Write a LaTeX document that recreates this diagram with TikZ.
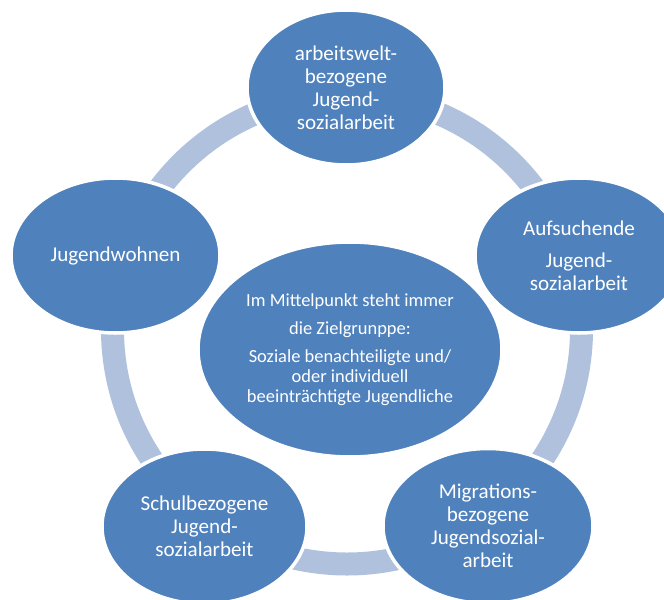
\documentclass[tikz,border=0pt]{standalone}
\usepackage{fontspec}
\setmainfont{Carlito}
\usetikzlibrary{shapes.geometric}
\definecolor{bubbleblue}{RGB}{79,129,189}
\definecolor{ringblue}{RGB}{176,193,222}

\begin{document}
\begin{tikzpicture}[
    field/.style={ellipse, fill=bubbleblue, draw=white, line width=2pt, inner sep=0pt,
      text=white, align=center, font=\fontsize{12}{13}\selectfont, minimum height=3.1cm}]
  \useasboundingbox (0,0) rectangle (13.28,-11.98);
  \clip (0,0) rectangle (13.28,-11.98);

  % Draw ring
  \coordinate (mid) at (6.94,-6.59);
  \draw[ringblue, line width=0.46cm] (mid) circle (4.69);

  % Draw ellipses
  \node[field, minimum width=3.96cm] (arbeit) at (6.92,-1.75) {arbeitswelt-\\bezogene\\Jugend-\\sozialarbeit};
  \node[field, minimum width=4.16cm] (aufsuch) at (11.58,-5.11) {Aufsuchende\\[5.5pt]Jugend-\\sozialarbeit};
  \node[field, minimum width=4.20cm] (migration) at (9.76,-10.52) {Migrations-\\bezogene\\Jugendsozial-\\arbeit};
  \node[field, minimum width=4.10cm] (schule) at (4.09,-10.53) {Schulbezogene\\Jugend-\\sozialarbeit};
  \node[field, minimum width=4.18cm] (wohnen) at (2.31,-5.11) {Jugendwohnen};

  % Center
  \node[field, minimum width=6.08cm, minimum height=4.3cm, font=\fontsize{10.5}{11.5}\selectfont] (ziel) at (7.0,-6.99)
    {Im Mittelpunkt steht immer\\[4.5pt]die Zielgrunppe:\\[4.5pt]Soziale benachteiligte und/\\oder individuell\\beeinträchtigte Jugendliche};
\end{tikzpicture}
\end{document}
